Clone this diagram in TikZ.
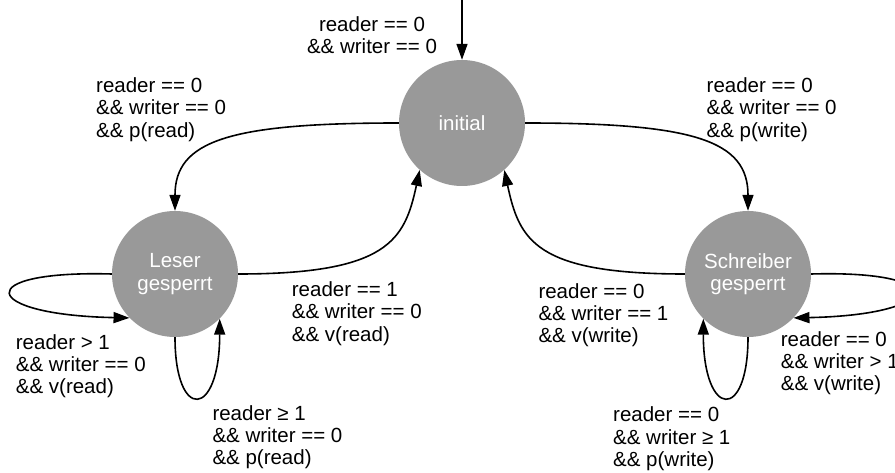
\documentclass[tikz,border=0pt]{standalone}
\usepackage{fontspec}
\setmainfont{Liberation Sans}
\usetikzlibrary{arrows.meta}
\definecolor{stategray}{HTML}{999999}
\newcommand\condfont{\fontsize{20.5}{22.3}\selectfont}
\begin{document}
\begin{tikzpicture}[x=1pt,y=-1pt,
  state/.style={circle, fill=stategray, minimum size=126pt, inner sep=0pt,
    text=white, align=center, font=\condfont},
  trans/.style={draw=black, line width=1.6pt,
    -{Triangle[length=16pt,width=11pt]}},
  % base anchor of a multi-line guard sits on its last line
  cond/.style={anchor=base west, align=left, inner sep=0pt, font=\condfont},
]
\useasboundingbox (0,0) rectangle (895,473);

% states
\node[state] (init)   at (462,123) {initial};
\node[state] (leser)  at (175,274) {Leser\\gesperrt};
\node[state] (schreib) at (748,274) {Schreiber\\gesperrt};

% entry transition
\coordinate (entry) at (462,0);
\draw[trans] (entry) -- (init);

% transitions between the states
\draw[trans] (init.west) .. controls +(-170,0) and +(0,-70) .. (leser.north);
\draw[trans] (leser.east) .. controls +(150,0) and +(-15,70) .. (init.228);
\draw[trans] (init.east) .. controls +(170,0) and +(0,-70) .. (schreib.north);
\draw[trans] (schreib.west) .. controls +(-150,0) and +(15,70) .. (init.-48);

% self loops
\draw[trans] (leser.west) .. controls +(-142,-4) and +(-150,-3) .. (leser.224);
\draw[trans] (leser.south) .. controls +(0,85) and +(0,100) .. (leser.-45);
\draw[trans] (schreib.east) .. controls +(142,-4) and +(150,-3) .. (schreib.-44);
\draw[trans] (schreib.south) .. controls +(0,85) and +(0,100) .. (schreib.225);

% guards
\node[cond, anchor=base, align=center] (gEntry) at (372,54)
  {reader == 0\\\&\& writer == 0};
\node[cond] (gRead) at (96,137.3) {reader == 0\\\&\& writer == 0\\\&\& p(read)};
\node[cond] (gWrite) at (706.5,137.3) {reader == 0\\\&\& writer == 0\\\&\& p(write)};
\node[cond] (gReadBack) at (291.7,341.3) {reader == 1\\\&\& writer == 0\\\&\& v(read)};
\node[cond] (gWriteBack) at (538.3,342.9) {reader == 0\\\&\& writer == 1\\\&\& v(write)};
\node[cond] (gReadOut) at (15.7,393.9) {reader > 1\\\&\& writer == 0\\\&\& v(read)};
\node[cond] (gReadIn) at (212.3,464.6) {reader ≥ 1\\\&\& writer == 0\\\&\& p(read)};
\node[cond] (gWriteOut) at (780.7,390.6) {reader == 0\\\&\& writer > 1\\\&\& v(write)};
\node[cond] (gWriteIn) at (613,466.3) {reader == 0\\\&\& writer ≥ 1\\\&\& p(write)};
\end{tikzpicture}
\end{document}
